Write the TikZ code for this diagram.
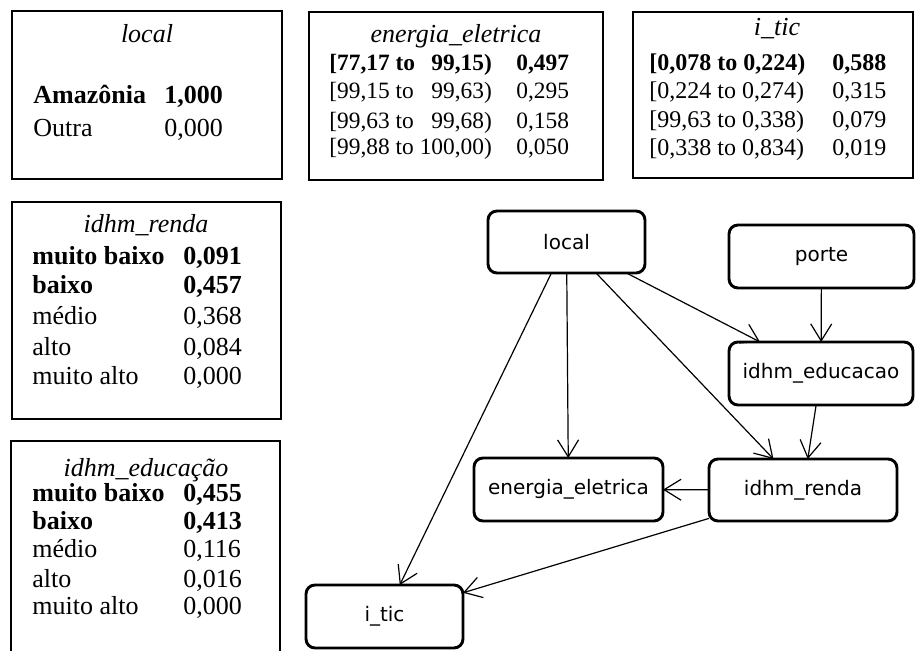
\documentclass[tikz,border=0pt]{standalone}
\usepackage{fontspec}
\setmainfont{Liberation Serif}
\newfontfamily\nodefont{DejaVu Sans}
\usetikzlibrary{arrows.meta}
\begin{document}
\begin{tikzpicture}[x=0.5pt,y=-0.5pt,
  tbox/.style={draw=black,line width=1.2pt},
  ttl/.style={anchor=base,inner sep=0pt,font=\fontsize{13}{15}\selectfont\itshape},
  lab/.style={anchor=base west,inner sep=0pt,font=\fontsize{13}{15}\selectfont},
  labs/.style={anchor=base west,inner sep=0pt,font=\fontsize{12}{14}\selectfont},
  labn/.style={anchor=base west,inner sep=0pt,font=\fontsize{11.7}{14}\selectfont},
  labe/.style={anchor=base east,inner sep=0pt,font=\fontsize{11.7}{14}\selectfont},
  bnode/.style={draw=black,line width=1.45pt,rounded corners=4.5pt,inner sep=0pt,outer sep=0pt,font=\nodefont\fontsize{10}{12}\selectfont},
  edge/.style={draw=black,line width=0.6pt,-{Straight Barb[length=8.5pt,width=10.5pt]}}
]
\useasboundingbox (0,0) rectangle (916,651);

% ---- table: local
\draw[tbox] (12,11) rectangle (282,179);
\node[ttl] (tlT) at (147,43) {local};
\node[lab,font=\fontsize{13}{15}\selectfont\bfseries] (tlA) at (33,104) {Amazônia};
\node[lab,font=\fontsize{13}{15}\selectfont\bfseries] (tlAv) at (164,104) {1,000};
\node[lab] (tlO) at (33,137) {Outra};
\node[lab] (tlOv) at (164,137) {0,000};

% ---- table: energia_eletrica
\draw[tbox] (309,12) rectangle (603,180);
\node[ttl] (teT) at (456,43) {energia\_eletrica};
\node[labn] (te4a) at (329,155) {[99,88 to 100,00)};
\node[labn] (te4v) at (516,155) {0,050};
\node[labn,font=\fontsize{11.7}{14}\selectfont\bfseries] (te1a) at (329,71) {[77,17 to};
\node[labe,font=\fontsize{11.7}{14}\selectfont\bfseries] (te1b) at (te4a.base east |- te1a.base) {99,15)};
\node[labn,font=\fontsize{11.7}{14}\selectfont\bfseries] (te1v) at (516,71) {0,497};
\node[labn] (te2a) at (329,99) {[99,15 to};
\node[labe] (te2b) at (te4a.base east |- te2a.base) {99,63)};
\node[labn] (te2v) at (516,99) {0,295};
\node[labn] (te3a) at (329,129) {[99,63 to};
\node[labe] (te3b) at (te4a.base east |- te3a.base) {99,68)};
\node[labn] (te3v) at (516,129) {0,158};

% ---- table: i_tic
\draw[tbox] (633,12) rectangle (913,178);
\node[ttl] (ttT) at (777,36) {i\_tic};
\node[labs,font=\fontsize{12}{14}\selectfont\bfseries] (tt1a) at (649,71) {[0,078 to 0,224)};
\node[labs,font=\fontsize{12}{14}\selectfont\bfseries] (tt1v) at (832,71) {0,588};
\node[labs] (tt2a) at (649,99) {[0,224 to 0,274)};
\node[labs] (tt2v) at (832,99) {0,315};
\node[labs] (tt3a) at (649,128) {[99,63 to 0,338)};
\node[labs] (tt3v) at (832,128) {0,079};
\node[labs] (tt4a) at (649,156) {[0,338 to 0,834)};
\node[labs] (tt4v) at (832,156) {0,019};

% ---- table: idhm_renda
\draw[tbox] (12,202) rectangle (281,419);
\node[ttl] (trT) at (146,233) {idhm\_renda};
\node[lab,font=\fontsize{13}{15}\selectfont\bfseries] (tr1a) at (32,265) {muito baixo};
\node[lab,font=\fontsize{13}{15}\selectfont\bfseries] (tr1v) at (183,265) {0,091};
\node[lab,font=\fontsize{13}{15}\selectfont\bfseries] (tr2a) at (32,294) {baixo};
\node[lab,font=\fontsize{13}{15}\selectfont\bfseries] (tr2v) at (183,294) {0,457};
\node[lab] (tr3a) at (32,325) {médio};
\node[lab] (tr3v) at (183,325) {0,368};
\node[lab] (tr4a) at (32,356) {alto};
\node[lab] (tr4v) at (183,356) {0,084};
\node[lab] (tr5a) at (32,385) {muito alto};
\node[lab] (tr5v) at (183,385) {0,000};

% ---- table: idhm_educação
\draw[tbox] (11,660) -- (11,441) -- (280,441) -- (280,660);
\node[ttl] (tdT) at (146,477) {idhm\_educação};
\node[lab,font=\fontsize{13}{15}\selectfont\bfseries] (td1a) at (32,502) {muito baixo};
\node[lab,font=\fontsize{13}{15}\selectfont\bfseries] (td1v) at (183,502) {0,455};
\node[lab,font=\fontsize{13}{15}\selectfont\bfseries] (td2a) at (32,530) {baixo};
\node[lab,font=\fontsize{13}{15}\selectfont\bfseries] (td2v) at (183,530) {0,413};
\node[lab] (td3a) at (32,558) {médio};
\node[lab] (td3v) at (183,558) {0,116};
\node[lab] (td4a) at (32,588) {alto};
\node[lab] (td4v) at (183,588) {0,016};
\node[lab] (td5a) at (32,615) {muito alto};
\node[lab] (td5v) at (183,615) {0,000};

% ---- graph
\node[bnode,minimum width=78.5pt,minimum height=31pt] (gl) at (566.5,242) {local};
\node[bnode,minimum width=92.5pt,minimum height=31.5pt] (gp) at (821.5,256.5) {porte};
\node[bnode,minimum width=92pt,minimum height=31.5pt] (ged) at (821,373.5) {idhm\_educacao};
\node[bnode,minimum width=94.5pt,minimum height=31.5pt] (gen) at (568.5,489.5) {energia\_eletrica};
\node[bnode,minimum width=94pt,minimum height=31pt] (gr) at (803,490) {idhm\_renda};
\node[bnode,minimum width=78.5pt,minimum height=31.5pt] (gi) at (384.5,616.5) {i\_tic};

\draw[edge] (gl) -- (gi);
\draw[edge] (gl) -- (gen);
\draw[edge] (gl) -- (gr);
\draw[edge] (gl) -- (ged);
\draw[edge] (gp) -- (ged);
\draw[edge] (ged) -- (gr);
\draw[edge] (gr) -- (gen);
\draw[edge] (gr) -- (gi);
\end{tikzpicture}
\end{document}
